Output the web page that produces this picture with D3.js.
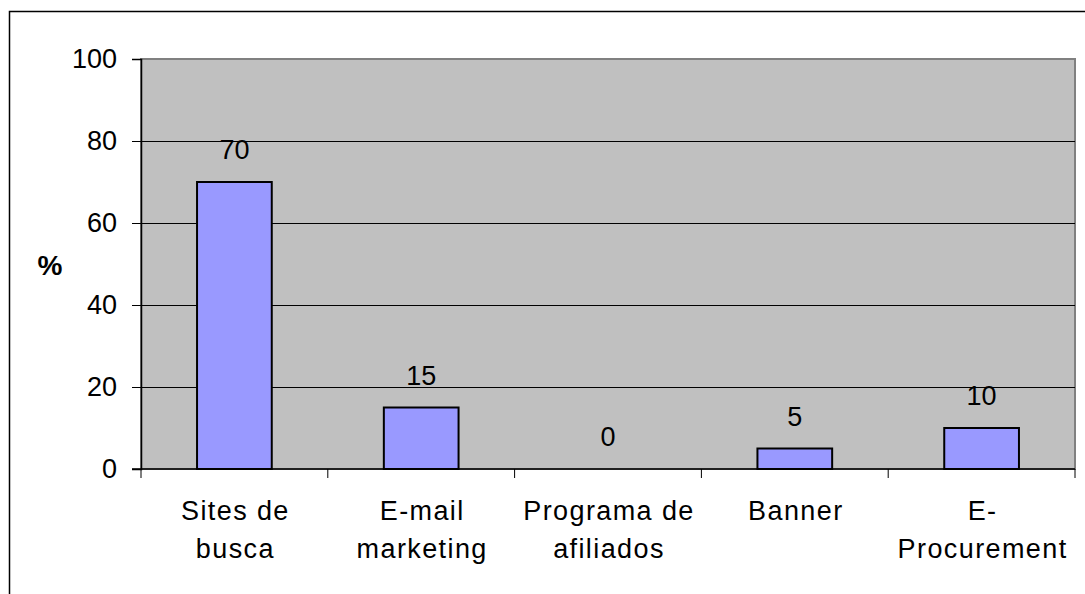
<!DOCTYPE html>
<html>
<head>
<meta charset="utf-8">
<script src="https://cdn.jsdelivr.net/npm/d3@7"></script>
<style>
  body { margin: 0; background: #fff; }
  text { font-family: "Liberation Sans", Arial, sans-serif; }
</style>
</head>
<body>
<div id="chart"></div>
<script>
var width = 1085;
var height = 594;

// data
var categories = [["Sites de", "busca"], ["E-mail", "marketing"], ["Programa de", "afiliados"], ["Banner"], ["E-", "Procurement"]];
var values = [70, 15, 0, 5, 10];
var yTicks = [0, 20, 40, 60, 80, 100];

var plot = {left: 141, right: 1075, top: 59, bottom: 469};

var svg = d3.select("#chart").append("svg")
  .attr("width", width)
  .attr("height", height);

// outer chart frame (runs off the right and bottom)
svg.append("rect")
  .attr("x", 9.5).attr("y", 11.5)
  .attr("width", width + 20).attr("height", height + 20)
  .style("fill", "none").style("stroke", "#000").style("stroke-width", 1.5);

var x = d3.scaleBand()
  .domain(d3.range(categories.length))
  .range([plot.left, plot.right])
  .paddingInner(0.6).paddingOuter(0.3);

var band = d3.scaleBand()
  .domain(d3.range(categories.length))
  .range([plot.left, plot.right]);

var y = d3.scaleLinear().domain([0, 100]).range([plot.bottom, plot.top]);

// plot background
svg.append("rect")
  .attr("x", plot.left).attr("y", plot.top)
  .attr("width", plot.right - plot.left).attr("height", plot.bottom - plot.top)
  .style("fill", "#c0c0c0").style("stroke", "#808080").style("stroke-width", 2);

// gridlines
svg.append("g").selectAll("line")
  .data(yTicks.filter(function(d){ return d > 0 && d < 100; }))
  .enter().append("line")
  .attr("x1", plot.left).attr("x2", plot.right)
  .attr("y1", function(d){ return Math.round(y(d)) + 0.5; })
  .attr("y2", function(d){ return Math.round(y(d)) + 0.5; })
  .style("stroke", "#000").style("stroke-width", 1);

// y axis
var yAxis = svg.append("g")
  .attr("transform", "translate(" + plot.left + ",0)")
  .call(d3.axisLeft(y).tickValues(yTicks).tickSize(9).tickPadding(15));
yAxis.select(".domain").style("stroke", "#000").style("stroke-width", 1.5);
yAxis.selectAll(".tick line").style("stroke", "#000");
yAxis.selectAll("text").style("font-size", "27px").style("fill", "#000")
  .style("font-family", "'Liberation Sans', Arial, sans-serif");

// x axis
var xAxis = svg.append("g")
  .attr("transform", "translate(0," + plot.bottom + ")");
xAxis.append("line")
  .attr("x1", plot.left - 9).attr("x2", plot.right)
  .style("stroke", "#000").style("stroke-width", 1.5);
xAxis.selectAll(".tk")
  .data(d3.range(categories.length + 1))
  .enter().append("line")
  .attr("x1", function(i){ return plot.left + i * band.bandwidth(); })
  .attr("x2", function(i){ return plot.left + i * band.bandwidth(); })
  .attr("y1", 0).attr("y2", 9)
  .style("stroke", "#000");

// bars
svg.append("g").selectAll("rect")
  .data(values)
  .enter().append("rect")
  .attr("x", function(d, i){ return x(i); })
  .attr("y", function(d){ return y(d); })
  .attr("width", x.bandwidth())
  .attr("height", function(d){ return y(0) - y(d); })
  .style("fill", "#9999ff").style("stroke", "#000").style("stroke-width", 2);

// value labels
svg.append("g").selectAll("text")
  .data(values)
  .enter().append("text")
  .attr("x", function(d, i){ return x(i) + x.bandwidth() / 2; })
  .attr("y", function(d){ return y(d) - 23; })
  .attr("text-anchor", "middle")
  .style("font-size", "27px")
  .text(function(d){ return d; });

// category labels
var cat = svg.append("g").selectAll("text")
  .data(categories)
  .enter().append("text")
  .attr("x", function(d, i){ return band(i) + band.bandwidth() / 2 + 1; })
  .attr("y", 520)
  .attr("text-anchor", "middle")
  .style("font-size", "27px")
  .style("letter-spacing", "1.4px");
cat.selectAll("tspan")
  .data(function(d){ return d; })
  .enter().append("tspan")
  .attr("x", function(){ return d3.select(this.parentNode).attr("x"); })
  .attr("dy", function(d, j){ return j === 0 ? 0 : 38; })
  .text(function(d){ return d; });

// y label
svg.append("text")
  .attr("x", 50).attr("y", 275)
  .attr("text-anchor", "middle")
  .style("font-size", "28px").style("font-weight", "bold")
  .text("%");
</script>
</body>
</html>
